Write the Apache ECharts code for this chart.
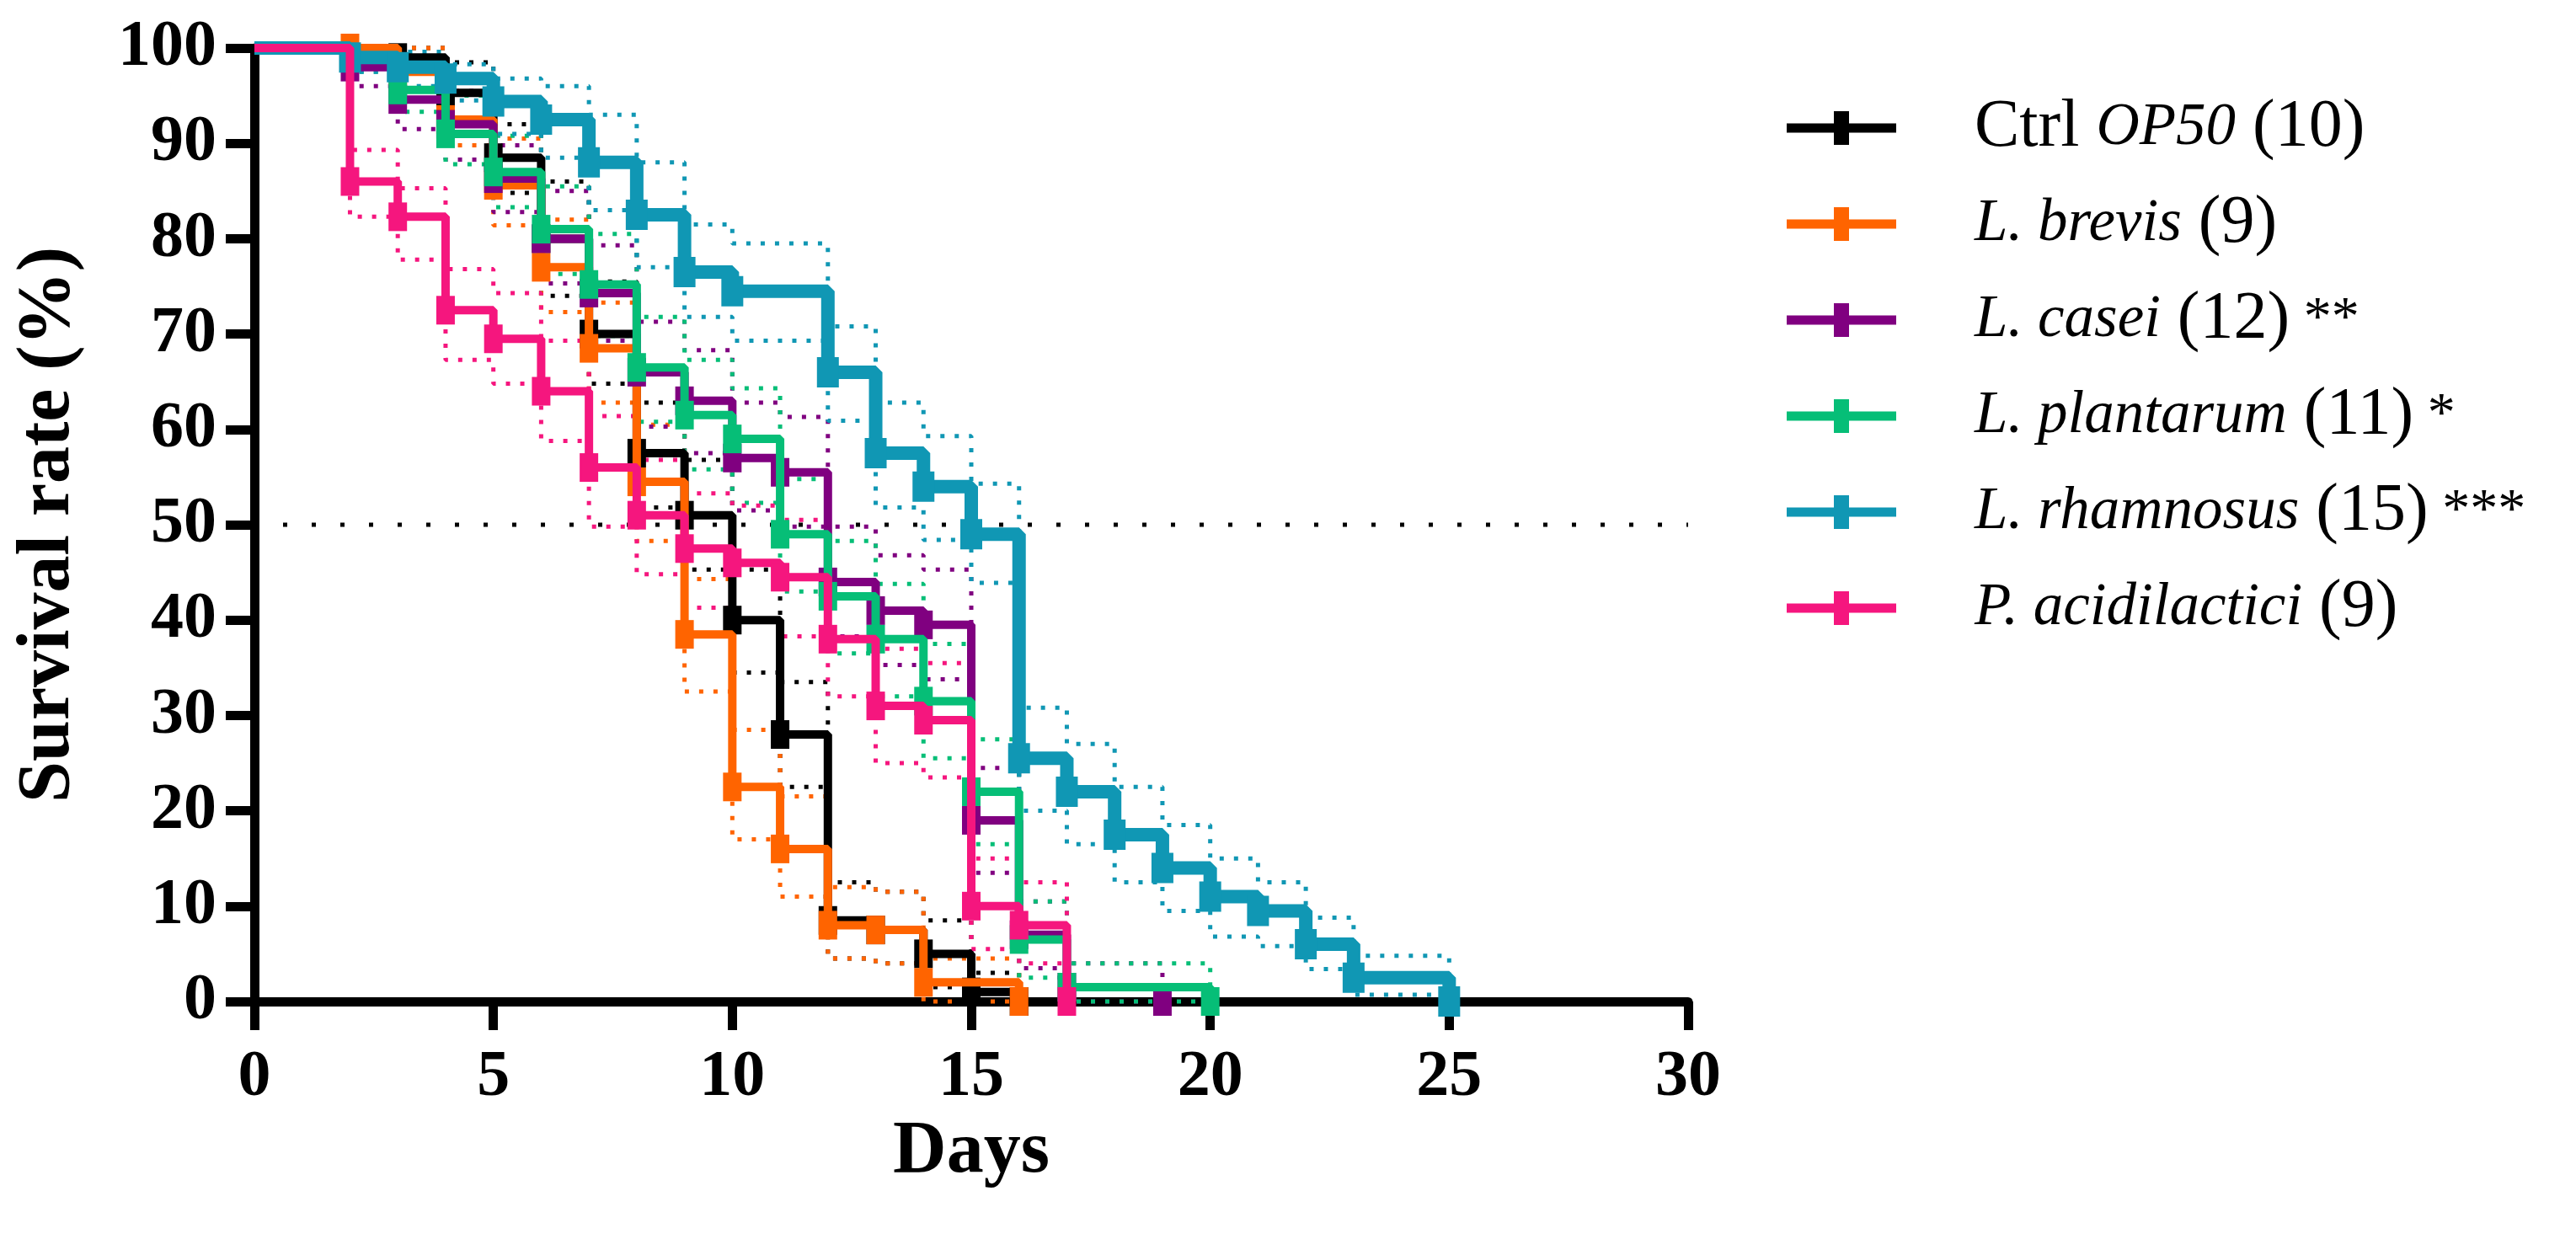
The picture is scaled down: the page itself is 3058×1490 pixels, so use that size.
<!DOCTYPE html>
<html>
<head>
<meta charset="utf-8">
<title>Survival rate</title>
<script src="https://cdn.jsdelivr.net/npm/echarts@6/dist/echarts.min.js"></script>
<style>
    html, body { margin: 0; padding: 0; background: #fff; }
    #main { width: 3058px; height: 1490px; }
</style>
</head>
<body>
<div id="main"></div>
<script>
// Kaplan-Meier curves (day of event -> survival %)
const groupNames = ['Ctrl OP50 (10)', 'L. brevis (9)', 'L. casei (12) **', 'L. plantarum (11) *', 'L. rhamnosus (15) ***', 'P. acidilactici (9)']
const groupColors = ['#000000', '#FF6400', '#800080', '#06BE77', '#1097B4', '#F5167E']

const ctrlDays = [0, 3, 4, 5, 6, 7, 8, 9, 10, 11, 12, 13, 14, 15, 16]
const ctrlSurv = [100, 99, 95.3, 88.5, 80, 70, 57.5, 51, 40, 28, 8.5, 7.5, 5, 1, 0]
const ctrlUpper = [100, 100, 98.5, 92, 86, 75.5, 62.8, 56.8, 45.3, 33.5, 12.5, 11.5, 8.5, 3, 0]
const ctrlLower = [100, 97.5, 92, 84.8, 74, 64.8, 51.8, 45.3, 34.5, 22.5, 4.5, 4, 1.5, 0, 0]

const brevisDays = [0, 2, 3, 4, 5, 6, 7, 8, 9, 10, 11, 12, 13, 14, 16]
const brevisSurv = [100, 100, 97.5, 92.5, 85.6, 77, 68.5, 54.5, 38.5, 22.5, 16, 8, 7.5, 2, 0]
const brevisUpper = [100, 100, 100, 96.5, 90.5, 82, 73.3, 60.5, 44.3, 28.5, 21.5, 12, 11.5, 4.5, 0]
const brevisLower = [100, 100, 94.5, 89.8, 81.4, 72.3, 62.8, 48.3, 32.5, 17, 11, 4.5, 4, 0, 0]

const caseiDays = [0, 2, 3, 4, 5, 6, 7, 8, 9, 10, 11, 12, 13, 14, 15, 16, 17, 19]
const caseiSurv = [100, 98, 94.6, 92, 86.3, 80, 74.3, 66, 63, 57, 55.5, 44, 41, 39.5, 19, 7, 1.5, 0]
const caseiUpper = [100, 100, 97.8, 95.5, 89.8, 85, 79.3, 71.3, 68.3, 62.8, 61.3, 49.8, 46.8, 45.3, 24.5, 10.5, 4, 0]
const caseiLower = [100, 96, 91.5, 88.3, 82.8, 75.3, 69.3, 60.3, 57.5, 51.5, 49.8, 38.3, 35.3, 33.8, 13.5, 3.5, 0, 0]

const plantarumDays = [0, 2, 3, 4, 5, 6, 7, 8, 9, 10, 11, 12, 13, 14, 15, 16, 17, 20]
const plantarumSurv = [100, 99, 95.6, 91, 87, 81, 75.2, 66.5, 61.5, 59, 49, 42.5, 38, 31.5, 22, 6.5, 1.5, 0]
const plantarumUpper = [100, 100, 98.5, 95, 90.8, 85.5, 80.5, 71.8, 67.3, 64.3, 54.8, 48.3, 43.8, 37.5, 27.5, 10.5, 4, 0]
const plantarumLower = [100, 97.5, 93.3, 87.8, 83.3, 76.3, 69.8, 60.8, 55.8, 52.3, 43, 36.5, 32, 25.5, 16.5, 2.5, 0, 0]

const rhamnosusDays = [0, 2, 3, 4, 5, 6, 7, 8, 9, 10, 12, 13, 14, 15, 16, 17, 18, 19, 20, 21, 22, 23, 25]
const rhamnosusSurv = [100, 99, 98, 96.8, 94.4, 92.5, 88, 82.5, 76.5, 74.5, 66, 57.5, 54, 49, 25.5, 22, 17.5, 14, 11, 9.5, 6, 2.5, 0]
const rhamnosusUpper = [100, 100, 99.6, 98.3, 96.8, 96, 93, 88, 81.5, 79.5, 70.8, 62.8, 59.3, 54.3, 30.8, 27, 22.5, 18.5, 15, 12.5, 8.8, 4.8, 0]
const rhamnosusLower = [100, 97.5, 96, 94.5, 91, 88.5, 83, 77, 71.8, 69.3, 60.9, 51.8, 48.4, 43.9, 20, 16.5, 12.5, 9.5, 6.8, 5.8, 3.4, 0.7, 0]

const acidiDays = [0, 2, 3, 4, 5, 6, 7, 8, 9, 10, 11, 12, 13, 14, 15, 16, 17]
const acidiSurv = [100, 86, 82.3, 72.5, 69.5, 64, 56, 51, 47.5, 46, 44.5, 38, 31, 29.5, 10, 8, 0]
const acidiUpper = [100, 89.3, 85.3, 76.8, 74.3, 69.3, 61.4, 56.8, 53.3, 52, 50.5, 44, 37, 35.5, 15, 12.5, 0]
const acidiLower = [100, 82.3, 77.8, 67.3, 64.8, 58.8, 49.8, 44.8, 41.3, 39.8, 38.3, 32, 25, 23.5, 5.5, 4, 0]

const xTicks = [0, 5, 10, 15, 20, 25, 30]
const yTicks = [0, 10, 20, 30, 40, 50, 60, 70, 80, 90, 100]
const refDays = [0, 30]
const refLevel = 50

const groups = [
    { days: ctrlDays, surv: ctrlSurv, upper: ctrlUpper, lower: ctrlLower },
    { days: brevisDays, surv: brevisSurv, upper: brevisUpper, lower: brevisLower },
    { days: caseiDays, surv: caseiSurv, upper: caseiUpper, lower: caseiLower },
    { days: plantarumDays, surv: plantarumSurv, upper: plantarumUpper, lower: plantarumLower },
    { days: rhamnosusDays, surv: rhamnosusSurv, upper: rhamnosusUpper, lower: rhamnosusLower },
    { days: acidiDays, surv: acidiSurv, upper: acidiUpper, lower: acidiLower },
]

const FONT = '"Palatino Linotype", "Book Antiqua", "Liberation Serif", serif'

document.addEventListener('DOMContentLoaded', function () {
    initSurvivalChart()
})

// species names in italics, counts upright, stars a bit smaller
function richName(name) {
    const p = name.indexOf(' (')
    const head = name.slice(0, p)
    const m = name.slice(p).match(/^( \(\d+\))(.*)$/)
    const count = '{r|' + m[1] + '}' + (m[2] ? '{a|' + m[2] + '}' : '')
    if (head.startsWith('Ctrl ')) {
        return '{g|}{r|Ctrl }{i|' + head.slice(5) + '}' + count
    }
    return '{g|}{i|' + head + '}' + count
}

function initSurvivalChart() {
    const myChart = echarts.init(document.getElementById('main'), null, { renderer: 'canvas' })

    const bandSeries = []
    const mainSeries = []

    groups.forEach((g, k) => {
        const color = groupColors[k];
        ['upper', 'lower'].forEach(side => {
            bandSeries.push({
                name: groupNames[k] + ' ' + side,
                type: 'line',
                step: 'end',
                data: g.days.map((d, i) => [d, g[side][i]]),
                symbol: 'none',
                silent: true,
                clip: false,
                lineStyle: { color: color, width: 5, type: [5, 12], cap: 'butt' },
                z: 2,
            })
        })
        const thick = k === 4
        mainSeries.push({
            name: groupNames[k],
            type: 'line',
            step: 'end',
            data: g.days.map((d, i) => i === 0 ? { value: [d, g.surv[i]], symbol: 'none' } : [d, g.surv[i]]),
            symbol: 'rect',
            symbolSize: thick ? [26, 36] : [22, 34],
            showAllSymbol: true,
            clip: false,
            color: color,
            itemStyle: { color: color, borderWidth: 0 },
            lineStyle: { color: color, width: thick ? 16 : 10, cap: 'butt' },
            z: 3 + k,
        })
    })

    const option = {
        animation: false,
        backgroundColor: '#ffffff',
        grid: {
            left: 302,
            right: 1054,
            top: 57,
            bottom: 301,
        },
        legend: {
            data: groupNames,
            orient: 'vertical',
            left: 2121,
            top: 112,
            padding: 0,
            itemGap: 34,
            itemWidth: 130,
            itemHeight: 40,
            icon: 'path://M0,14.5H130V25.5H0Z M56,0H74V40H56Z',
            itemStyle: { borderWidth: 0 },
            formatter: richName,
            textStyle: {
                color: '#000',
                fontFamily: FONT,
                fontSize: 80,
                rich: {
                    g: { width: 88, lineHeight: 90 },
                    r: { fontFamily: FONT, fontSize: 80, lineHeight: 90, color: '#000' },
                    i: { fontFamily: FONT, fontSize: 71, lineHeight: 90, fontStyle: 'italic', color: '#000' },
                    a: { fontFamily: FONT, fontSize: 66, lineHeight: 90, color: '#000' },
                },
            },
        },
        xAxis: {
            type: 'value',
            min: xTicks[0],
            max: xTicks[xTicks.length - 1],
            interval: xTicks[1] - xTicks[0],
            name: 'Days',
            nameLocation: 'middle',
            nameGap: 130,
            nameTextStyle: { fontFamily: FONT, fontSize: 88, fontWeight: 'bold', color: '#000' },
            axisLine: { lineStyle: { color: '#000', width: 11 } },
            axisTick: { length: 34, lineStyle: { color: '#000', width: 11 } },
            axisLabel: { margin: 52, fontFamily: FONT, fontSize: 78, fontWeight: 'bold', color: '#000' },
            splitLine: { show: false },
        },
        yAxis: {
            type: 'value',
            min: yTicks[0],
            max: yTicks[yTicks.length - 1],
            interval: yTicks[1] - yTicks[0],
            name: 'Survival rate (%)',
            nameLocation: 'middle',
            nameRotate: 90,
            nameGap: 200,
            nameTextStyle: { fontFamily: FONT, fontSize: 88, fontWeight: 'bold', color: '#000' },
            axisLine: { show: true, lineStyle: { color: '#000', width: 11 } },
            axisTick: { show: true, length: 34, lineStyle: { color: '#000', width: 11 } },
            axisLabel: { margin: 45, fontFamily: FONT, fontSize: 78, fontWeight: 'bold', color: '#000' },
            splitLine: { show: false },
        },
        series: [
            {
                name: 'median',
                type: 'line',
                data: refDays.map(d => [d, refLevel]),
                symbol: 'none',
                silent: true,
                lineStyle: { color: '#000', width: 5, type: [5, 29], cap: 'butt' },
                z: 1,
            },
            ...bandSeries,
            ...mainSeries,
        ],
    }

    myChart.setOption(option)
}
</script>
</body>
</html>
